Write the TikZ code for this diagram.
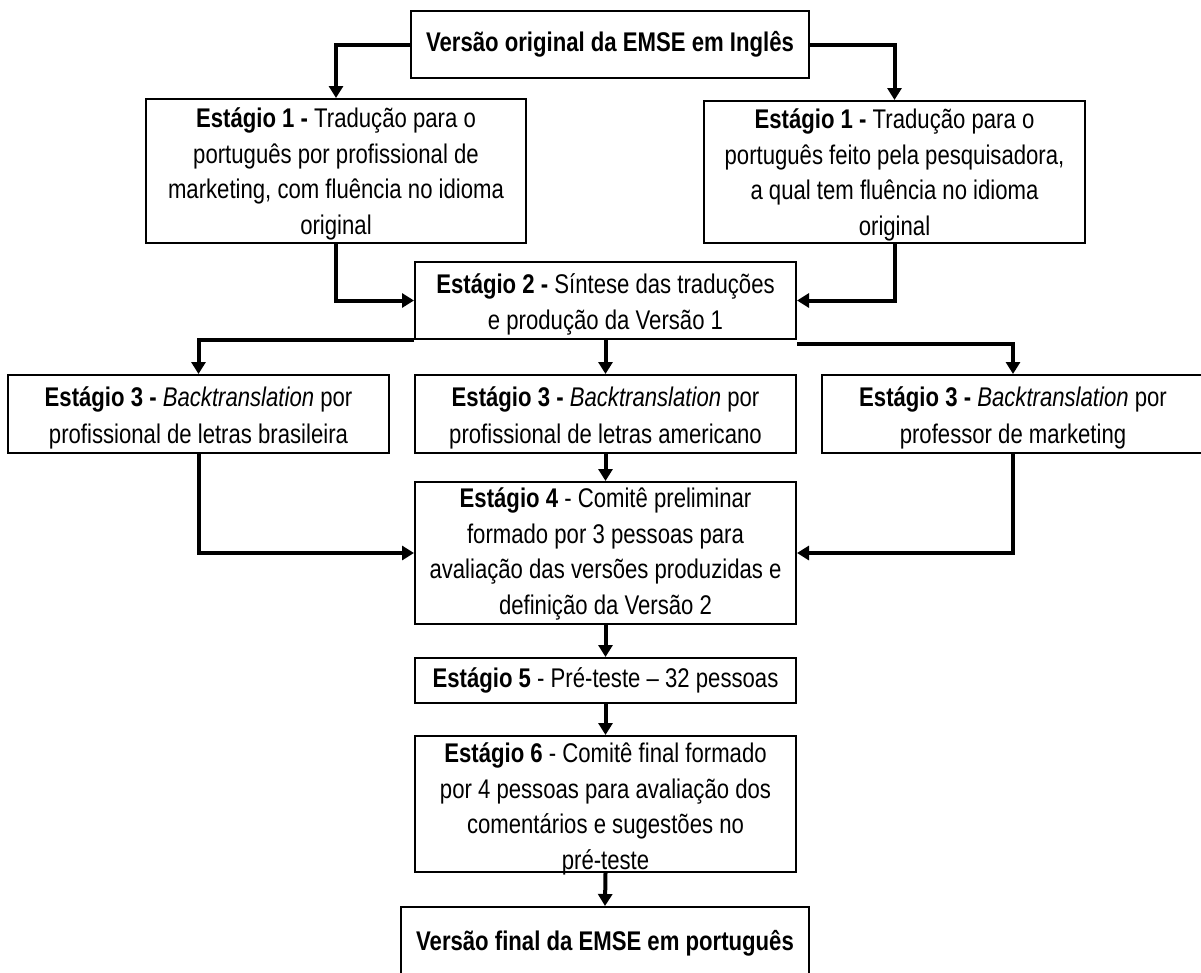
\documentclass[tikz,border=0pt]{standalone}
\usepackage{fontspec}
\setmainfont{Liberation Sans}[FakeStretch=0.82]
\usetikzlibrary{arrows.meta}
\begin{document}
\begin{tikzpicture}[x=1pt,y=-1pt,
  stagebox/.style={draw, line width=2pt, inner sep=0pt, minimum width=#1},
  stagetext/.style={inner sep=0pt, align=center,
    font=\fontsize{27}{36.5}\selectfont, yshift=#1},
  stagetext/.default=0pt,
  fourlines/.style={font=\fontsize{27}{35.5}\selectfont},
  conn/.style={line width=4pt, -{Triangle[length=12pt,width=14pt]}}]
\useasboundingbox (0,0) rectangle (1201,972);
% boxes, each carrying its centred text as a label
\node[stagebox=398pt, minimum height=67pt,
  label={[stagetext]center:{\textbf{Versão original da EMSE em Inglês}}}] (top) at (610,44.5) {};
\node[stagebox=380pt, minimum height=144pt,
  label={[stagetext=-3pt, fourlines]center:{\textbf{Estágio 1 -} Tradução para o\\português por profissional de\\marketing, com fluência no idioma\\original}}] (s1L) at (336,171) {};
\node[stagebox=381pt, minimum height=142pt,
  label={[stagetext=-3pt, fourlines]center:{\textbf{Estágio 1 -} Tradução para o\\português feito pela pesquisadora,\\a qual tem fluência no idioma\\original}}] (s1R) at (894.5,172) {};
\node[stagebox=381pt, minimum height=77pt,
  label={[stagetext=-4pt]center:{\textbf{Estágio 2 -} Síntese das traduções\\e produção da Versão 1}}] (s2) at (605.5,300.5) {};
\node[stagebox=381pt, minimum height=78pt,
  label={[stagetext=-4pt]center:{\textbf{Estágio 3 -} \textit{Backtranslation} por\\profissional de letras brasileira}}] (s3L) at (198.5,414) {};
\node[stagebox=381pt, minimum height=78pt,
  label={[stagetext=-4pt]center:{\textbf{Estágio 3 -} \textit{Backtranslation} por\\profissional de letras americano}}] (s3M) at (605.5,414) {};
\node[stagebox=382pt, minimum height=78pt,
  label={[stagetext=-4pt]center:{\textbf{Estágio 3 -} \textit{Backtranslation} por\\professor de marketing}}] (s3R) at (1013,414) {};
\node[stagebox=381pt, minimum height=142pt,
  label={[stagetext=-1pt, fourlines]center:{\textbf{Estágio 4} - Comitê preliminar\\formado por 3 pessoas para\\avaliação das versões produzidas e\\definição da Versão 2}}] (s4) at (605.5,553) {};
\node[stagebox=381pt, minimum height=45pt,
  label={[stagetext]center:{\textbf{Estágio 5} - Pré-teste – 32 pessoas}}] (s5) at (605.5,680.5) {};
\node[stagebox=381pt, minimum height=136pt,
  label={[stagetext=-5pt, fourlines]center:{\textbf{Estágio 6} - Comitê final formado\\por 4 pessoas para avaliação dos\\comentários e sugestões no\\pré-teste}}] (s6) at (605.5,804) {};
\node[stagebox=408pt, minimum height=72pt,
  label={[stagetext]center:{\textbf{Versão final da EMSE em português}}}] (fin) at (605,943) {};
% connectors
\draw[conn] (top.west) -| (s1L.north);
\draw[conn] (top.east) -| (s1R.north);
\draw[conn] (s1L.south) |- (s2.west);
\draw[conn] (s1R.south) |- (s2.east);
\draw[conn] (s2.south west) -| (s3L.north);
\draw[conn] (s2.south) -- (s3M.north);
\draw[conn] ([yshift=-4pt]s2.south east) -| (s3R.north);
\draw[conn] (s3L.south) |- (s4.west);
\draw[conn] (s3M.south) -- (s4.north);
\draw[conn] (s3R.south) |- (s4.east);
\draw[conn] (s4.south) -- (s5.north);
\draw[conn] (s5.south) -- (s6.north);
\draw[conn] (s6.south) -- (fin.north);
\end{tikzpicture}
\end{document}
